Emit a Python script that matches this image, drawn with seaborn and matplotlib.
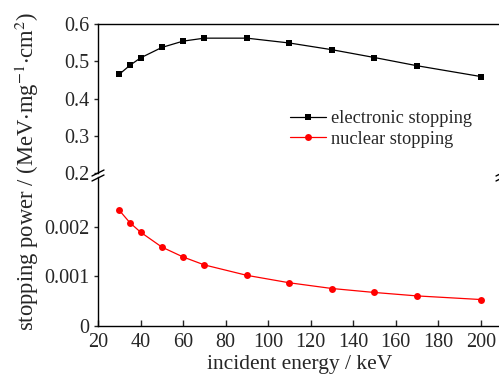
import numpy as np
import pandas as pd
import matplotlib
matplotlib.use("Agg")
import matplotlib.pyplot as plt
from matplotlib.lines import Line2D
import seaborn as sns

# ---- data ----
energy = [30, 35, 40, 50, 60, 70, 90, 110, 130, 150, 170, 200]
electronic = [0.465, 0.489, 0.509, 0.537, 0.554, 0.562, 0.562, 0.549, 0.531, 0.510, 0.488, 0.459]
nuclear = [0.00233, 0.00208, 0.00189, 0.00159, 0.00139, 0.00123, 0.00102, 0.00087,
           0.000755, 0.000675, 0.000606, 0.000533]
xticks = [20, 40, 60, 80, 100, 120, 140, 160, 180, 200]
top_yticks = [0.2, 0.3, 0.4, 0.5, 0.6]
bot_yticks = [0, 0.001, 0.002]
bot_yticklabels = ["0", "0.001", "0.002"]

sns.set_style("ticks")
plt.rcParams["font.family"] = ["Liberation Serif", "DejaVu Serif"]
plt.rcParams["mathtext.fontset"] = "stix"

W, H = 499, 376
fig = plt.figure(figsize=(W / 100, H / 100), dpi=100)

def fx(px):
    return px / W

def fy(py):
    return 1 - py / H

left, right = 98, 502
ax_top = fig.add_axes([fx(left), fy(173), fx(right - left), fy(24) - fy(173)])
ax_bot = fig.add_axes([fx(left), fy(326), fx(right - left), fy(177) - fy(326)])

df = pd.DataFrame({"energy": energy, "electronic": electronic, "nuclear": nuclear})

sns.lineplot(data=df, x="energy", y="electronic", ax=ax_top, color="black",
             marker="s", markersize=4.2, markeredgewidth=0, linewidth=0.9,
             label="electronic stopping", legend=False)
sns.lineplot(data=df, x="energy", y="nuclear", ax=ax_bot, color="#ff0000",
             marker="o", markersize=5, markeredgewidth=0, linewidth=0.9,
             label="nuclear stopping", legend=False)

for ax in (ax_top, ax_bot):
    ax.set_xlim(20, 210)
    ax.set_xlabel("")
    ax.set_ylabel("")
    for s in ax.spines.values():
        s.set_linewidth(1.0)
        s.set_color("black")
    ax.spines["right"].set_visible(False)

ax_top.set_ylim(0.2, 0.6)
ax_top.set_yticks(top_yticks)
ax_top.set_yticklabels([f"{v:.1f}" for v in top_yticks])
ax_top.spines["bottom"].set_visible(False)
ax_top.tick_params(axis="x", bottom=False, labelbottom=False)
ax_top.tick_params(axis="y", direction="out", length=3, width=1, pad=3, labelsize=14.5)

ax_bot.set_ylim(0, 0.003)
ax_bot.set_yticks(bot_yticks)
ax_bot.set_yticklabels(bot_yticklabels)
ax_bot.spines["top"].set_visible(False)
ax_bot.set_xticks(xticks)
ax_bot.tick_params(axis="x", direction="in", length=4, width=1, pad=5, labelsize=14.5)
ax_bot.tick_params(axis="y", direction="out", length=3, width=1, pad=3, labelsize=14.5)

# break marks
for xc in (left, right):
    for yc in (173, 178):
        fig.add_artist(Line2D([fx(xc - 6), fx(xc + 6)], [fy(yc + 3), fy(yc - 3)],
                              transform=fig.transFigure, color="black", linewidth=1.0))

fig.text(fx(300), fy(364), "incident energy / keV", ha="center", va="center", fontsize=15.5)
fig.text(fx(27), fy(171), "stopping power / (MeV$\\cdot$mg$^{-1}$$\\cdot$cm$^{2}$)",
         ha="center", va="center", rotation=90, fontsize=16.3)

handles = [
    Line2D([], [], color="black", marker="s", markersize=4.2, markeredgewidth=0, linewidth=0.9),
    Line2D([], [], color="#ff0000", marker="o", markersize=5, markeredgewidth=0, linewidth=0.9),
]
fig.legend(handles, ["electronic stopping", "nuclear stopping"], loc="upper left",
           bbox_to_anchor=(fx(290), fy(110)), bbox_transform=fig.transFigure,
           frameon=False, fontsize=13.2, borderpad=0, borderaxespad=0,
           handlelength=1.95, handletextpad=0.3, labelspacing=0.2)

fig.savefig("out.png", dpi=100)
